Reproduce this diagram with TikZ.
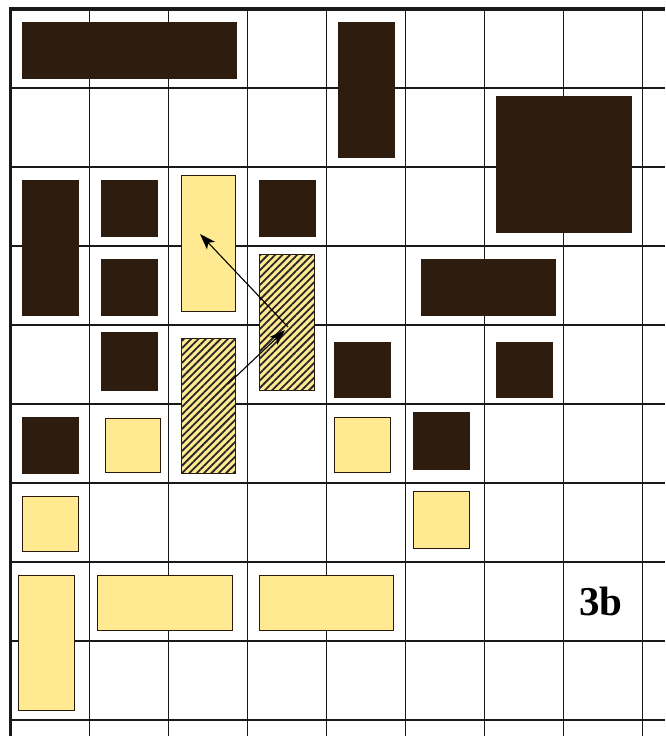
\documentclass[tikz,border=0pt]{standalone}
\usepackage{fontspec}
\setmainfont{Liberation Serif}
\usetikzlibrary{arrows.meta,patterns.meta}
\definecolor{darkbox}{RGB}{46,28,14}
\definecolor{yelbox}{RGB}{255,233,145}
\definecolor{gridc}{RGB}{25,25,25}
\tikzset{
  gridline/.style={draw=gridc, line width=1.8pt},
  borderline/.style={draw=gridc, line width=3.2pt},
  box/.style={rectangle, inner sep=0pt, outer sep=0pt, line width=1pt},
  darkb/.style={box, fill=darkbox, draw=darkbox},
  yelb/.style={box, fill=yelbox, draw=darkbox!90!black},
  hatchb/.style={box, fill=yelbox, draw=darkbox!90!black,
    postaction={pattern={Lines[angle=45,distance=5.2pt,line width=1.8pt]}, pattern color=black!85}},
  conn/.style={draw=black, line width=1.1pt, -{Stealth[length=16pt,width=11pt,inset=4pt]}},
}
\newcommand{\boxat}[6]{% style, name, x1, y1, x2, y2
  \node[#1, minimum width={#5-#3}, minimum height={#6-#4}] (#2) at ({(#3+#5)/2},{(#4+#6)/2}) {};}
\begin{document}
\begin{tikzpicture}[x=1pt,y=-1pt]
\useasboundingbox (0,0) rectangle (665,736);
\fill[white] (0,0) rectangle (665,736);
% grid
\foreach \k in {1,...,8} { \draw[gridline] ({10.5+79*\k},9) -- ({10.5+79*\k},736); }
\foreach \k in {1,...,9} { \draw[gridline] (10.5,{9+79*\k}) -- (665,{9+79*\k}); }
\draw[borderline] (10.5,736) -- (10.5,9) -- (665,9);
% dark boxes
\boxat{darkb}{d1}{22}{22}{236}{78}
\boxat{darkb}{d2}{338}{22}{394}{157}
\boxat{darkb}{d3}{496}{96}{631}{232}
\boxat{darkb}{d4}{259}{180}{315}{236}
\boxat{darkb}{d5}{22}{180}{78}{315}
\boxat{darkb}{d6}{101}{180}{157}{236}
\boxat{darkb}{d7}{101}{259}{157}{315}
\boxat{darkb}{d8}{101}{332}{157}{390}
\boxat{darkb}{d9}{22}{417}{78}{473}
\boxat{darkb}{d10}{421}{259}{555}{315}
\boxat{darkb}{d11}{334}{342}{390}{397}
\boxat{darkb}{d12}{496}{342}{552}{397}
\boxat{darkb}{d13}{413}{412}{469}{469}
% yellow boxes
\boxat{yelb}{y1}{181}{175}{235}{311}
\boxat{yelb}{y2}{105}{418}{160}{472}
\boxat{yelb}{y3}{334}{417}{390}{472}
\boxat{yelb}{y4}{22}{496}{78}{551}
\boxat{yelb}{y5}{413}{491}{469}{548}
\boxat{yelb}{y6}{18}{575}{74}{710}
\boxat{yelb}{y7}{97}{575}{232}{630}
\boxat{yelb}{y8}{259}{575}{393}{630}
% hatched boxes
\boxat{hatchb}{h1}{259}{254}{314}{390}
\boxat{hatchb}{h2}{181}{338}{235}{473}
% connectors
\coordinate (a1s) at (288,327);
\coordinate (a1e) at (200,234);
\coordinate (a2s) at (228,384);
\coordinate (a2e) at (285,330);
\draw[conn] (a1s) -- (a1e);
\draw[conn] (a2s) -- (a2e);
% label
\node[font=\fontsize{41}{41}\selectfont\bfseries, inner sep=0pt] (lbl) at (601,601) {3b};
\end{tikzpicture}
\end{document}
